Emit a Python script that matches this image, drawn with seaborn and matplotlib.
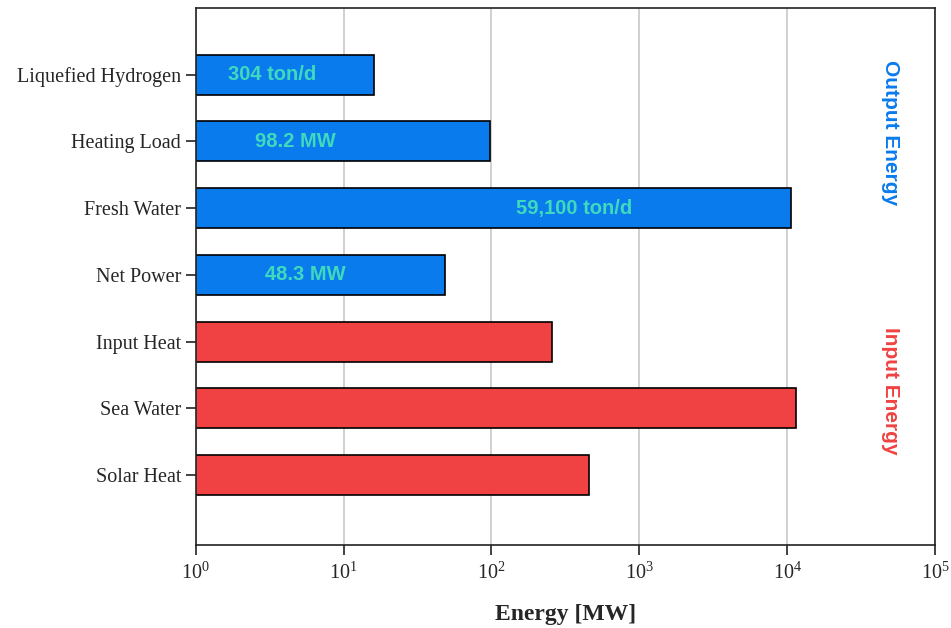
import numpy as np
import pandas as pd
import matplotlib.pyplot as plt
import seaborn as sns

# data
categories = ['Liquefied Hydrogen', 'Heating Load', 'Fresh Water', 'Net Power',
              'Input Heat', 'Sea Water', 'Solar Heat']
energy_mw = [16.0, 98.2, 10600, 48.3, 256, 11500, 454]
group = ['Output', 'Output', 'Output', 'Output', 'Input', 'Input', 'Input']
bar_labels = ['304 ton/d', '98.2 MW', '59,100 ton/d', '48.3 MW', '', '', '']
label_x = [3.3, 4.7, 360, 5.5, None, None, None]

df = pd.DataFrame({'Category': categories, 'Energy': energy_mw, 'Group': group})

sns.set_style('white')
plt.rcParams['font.family'] = ['Liberation Serif', 'DejaVu Serif']

fig = plt.figure(figsize=(9.51, 6.28), dpi=100)
ax = fig.add_axes([195.7 / 951, 1 - 545 / 628, (935 - 195.7) / 951, (545 - 8) / 628])

palette = {'Output': '#0a7bed', 'Input': '#f04242'}
sns.barplot(data=df, x='Energy', y='Category', hue='Group', palette=palette,
            dodge=False, width=0.6, edgecolor='black', linewidth=1.2,
            saturation=1, legend=False, ax=ax)

ax.set_xscale('log')
ax.set_xlim(1, 1e5)
ax.set_ylim(7.05, -1.0)
ax.xaxis.set_minor_locator(plt.NullLocator())
ax.grid(axis='x', color='#c8c8c8', linewidth=1.2)
ax.set_axisbelow(True)

for sp in ax.spines.values():
    sp.set_color('#222222')
    sp.set_linewidth(1.2)

ax.tick_params(axis='both', which='major', direction='out', length=7, width=1.2,
               color='#222222', labelsize=14.5, bottom=True, left=True)
ax.tick_params(axis='x', pad=6)
ax.set_ylabel('')
ax.set_xlabel('Energy [MW]', fontsize=17, fontweight='bold', labelpad=14)

for i, (txt, xv) in enumerate(zip(bar_labels, label_x)):
    if txt:
        ax.text(xv, i, txt, ha='center', va='center', color='#3fdabd',
                fontsize=14.5, fontweight='bold', family=['Liberation Sans', 'DejaVu Sans'])

ax.text(0.94, 0.87, 'Output Energy', transform=ax.get_yaxis_transform(),
        rotation=-90, ha='center', va='center', color='#0a7bed', fontsize=15,
        fontweight='bold', family=['Liberation Sans', 'DejaVu Sans'])
ax.text(0.94, 4.74, 'Input Energy', transform=ax.get_yaxis_transform(),
        rotation=-90, ha='center', va='center', color='#f04242', fontsize=15,
        fontweight='bold', family=['Liberation Sans', 'DejaVu Sans'])

fig.savefig('out.png', dpi=100)
